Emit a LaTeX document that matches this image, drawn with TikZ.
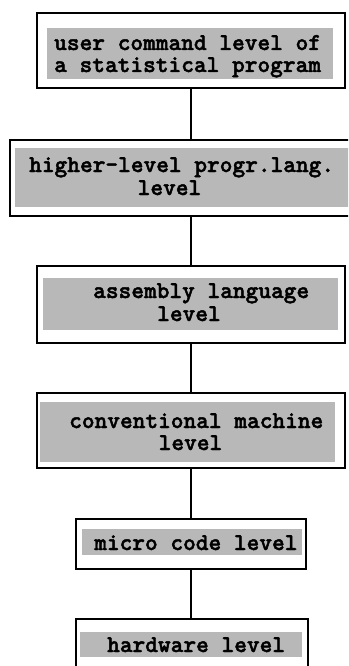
\documentclass[tikz,border=0pt]{standalone}
\usepackage{fontspec}
\newfontfamily\lvlfont{lmmonolt10-bold.otf}[FakeBold=1.8]
\definecolor{screen}{HTML}{B8B8B8}
\tikzset{
  levelbox/.style={draw, line width=1.8pt, fill=white, inner sep=0pt, anchor=north west},
  screenfill/.style={fill=screen},
  lvltext/.style={anchor=base west, inner sep=0pt,
    font=\fontsize{24.2}{23}\lvlfont\selectfont},
  link/.style={line width=1.8pt}
}
\begin{document}
\begin{tikzpicture}[x=1pt,y=-1pt]
\useasboundingbox (0,0) rectangle (348,666);
\clip (0,0) rectangle (348,666);

% outer frames of the six levels
\node[levelbox, minimum width=308pt, minimum height=75pt] (b1) at (36,12) {};
\node[levelbox, minimum width=362pt, minimum height=76pt] (b2) at (9,139) {};
\node[levelbox, minimum width=308pt, minimum height=77pt] (b3) at (36,265) {};
\node[levelbox, minimum width=308pt, minimum height=75pt] (b4) at (36,392) {};
\node[levelbox, minimum width=230pt, minimum height=50pt] (b5) at (75,518) {};
\node[levelbox, minimum width=232pt, minimum height=52pt] (b6) at (75,618) {};

% connecting lines between the levels
\draw[link] (b1.south) -- (b1.south |- b2.north);
\draw[link] (b2.south) -- (b2.south |- b3.north);
\draw[link] (b3.south) -- (b3.south |- b4.north);
\draw[link] (b4.south) -- (b4.south |- b5.north);
\draw[link] (b5.south) -- (b5.south |- b6.north);

% shaded label fields
\fill[screenfill] (47,28) rectangle (333,79);
\fill[screenfill] (15,148) rectangle (360,207);
\fill[screenfill] (43,278) rectangle (338,330);
\fill[screenfill] (40,402) rectangle (335,462);
\fill[screenfill] (82,529) rectangle (302,555);
\fill[screenfill] (80,632) rectangle (302,657);

% labels
\node[lvltext] (t1a) at (54,50) {user command level of};
\node[lvltext] (t1b) at (54,72) {a statistical program};
\node[lvltext] (t2a) at (29,172) {higher-level progr.lang.};
\node[lvltext] (t2b) at (137.5,195) {level};
\node[lvltext] (t3a) at (93,298) {assembly language};
\node[lvltext] (t3b) at (157,321) {level};
\node[lvltext] (t4a) at (69,428) {conventional machine};
\node[lvltext] (t4b) at (158.5,450) {level};
\node[lvltext] (t5) at (94,550) {micro code level};
\node[lvltext] (t6) at (107,652) {hardware level};
\end{tikzpicture}
\end{document}
